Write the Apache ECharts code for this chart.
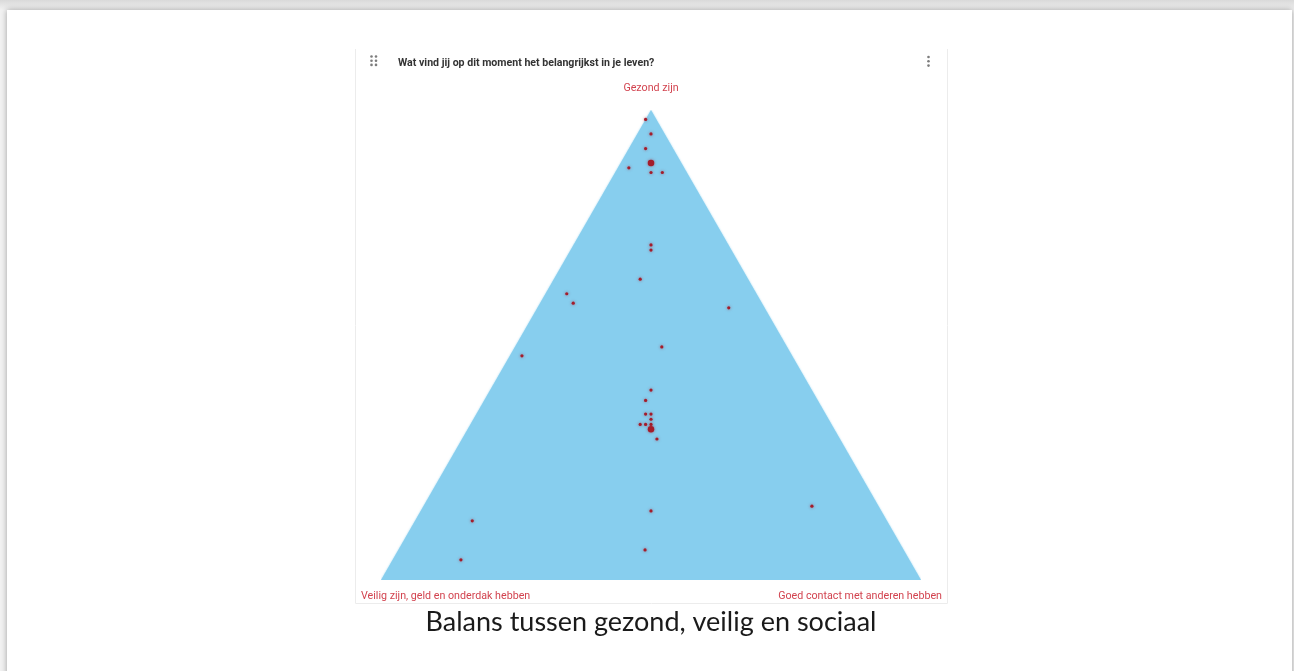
<!DOCTYPE html>
<html>
<head>
<meta charset="utf-8">
<script src="https://cdn.jsdelivr.net/npm/echarts@6/dist/echarts.min.js"></script>
<style>
  html, body { margin: 0; padding: 0; width: 1294px; height: 671px; overflow: hidden; background: #ffffff; }
  #frame { position: absolute; left: 0; top: 0; width: 1294px; height: 671px;
           background: linear-gradient(#d9d9d9, #f2f2f2 10px, #f2f2f2); }
  #page { position: absolute; left: 7px; top: 10px; width: 1285px; height: 670px; background: #ffffff;
          box-shadow: 0 0 6px rgba(0,0,0,0.35); }
  #chart { position: absolute; left: 0; top: 0; width: 1294px; height: 671px; }
</style>
</head>
<body>
<div id="frame"></div>
<div id="page"></div>
<div id="chart"></div>
<script>
// Corner labels (ternary axes)
const cornerLabels = ["Gezond zijn", "Veilig zijn, geld en onderdak hebben", "Goed contact met anderen hebben"];
const chartTitle = "Wat vind jij op dit moment het belangrijkst in je leven?";
const caption = "Balans tussen gezond, veilig en sociaal";

// Triangle outline in plot units (x: 0..100 across base, y: 0..100 height)
const triangle = [[0, 0], [50, 100], [100, 0]];

// Individual answers: [x, y] position inside the triangle
const answers = [
  [49.0, 98.0], [50.0, 94.9], [49.0, 91.8], [45.9, 87.7], [50.0, 86.7], [52.1, 86.7],
  [50.0, 71.3], [50.0, 70.2], [48.0, 64.0], [34.4, 60.9], [35.6, 58.9], [64.4, 57.9],
  [52.0, 49.6], [26.1, 47.7], [50.0, 40.4], [49.0, 38.2], [49.0, 35.3], [50.0, 35.3],
  [50.0, 34.2], [48.0, 33.1], [49.0, 33.1], [50.0, 33.1], [51.1, 30.0],
  [16.9, 12.6], [79.8, 15.7], [50.0, 14.7], [48.9, 6.4], [14.8, 4.3]
];
// Positions where several answers coincide (larger dots)
const clusters = [[50.0, 88.7], [50.0, 32.1]];

const chart = echarts.init(document.getElementById('chart'), null, { renderer: 'canvas' });
const red = '#d2434f';
const dot = '#a31d2b';

function dotsIcon(x0, y0, cols, rows, dx, dy) {
  const out = [];
  for (let c = 0; c < cols; c++) for (let r = 0; r < rows; r++) {
    out.push({ type: 'circle', shape: { cx: x0 + c * dx, cy: y0 + r * dy, r: 1.3 },
               style: { fill: '#7c7c7c' }, silent: true });
  }
  return out;
}

chart.setOption({
  animation: false,
  backgroundColor: 'transparent',
  grid: { left: 381, top: 110, width: 540, height: 470 },
  xAxis: { type: 'value', min: 0, max: 100, show: false },
  yAxis: { type: 'value', min: 0, max: 100, show: false },
  graphic: [
    { type: 'rect', shape: { x: 355.5, y: 47.5, width: 592, height: 556 },
      style: { fill: 'none', stroke: '#ececec', lineWidth: 1 }, z: -10, silent: true },
    { type: 'rect', shape: { x: 355, y: 44, width: 593, height: 5 },
      style: { fill: '#ffffff' }, z: -9, silent: true },
    ...dotsIcon(371.5, 56.5, 2, 3, 4.5, 4.2),
    ...dotsIcon(928.5, 57, 1, 3, 0, 4.3),
    { type: 'text', x: 398, y: 57.5,
      style: { text: chartTitle, font: 'bold 10.6px Roboto', fill: '#333333' } },
    { type: 'text', x: 651, y: 83,
      style: { text: cornerLabels[0], font: '10.7px Roboto', fill: red, align: 'center' } },
    { type: 'text', x: 361, y: 590.5,
      style: { text: cornerLabels[1], font: '10.7px Roboto', fill: red } },
    { type: 'text', x: 942, y: 590.5,
      style: { text: cornerLabels[2], font: '10.7px Roboto', fill: red, align: 'right' } },
    { type: 'text', x: 651, y: 609,
      style: { text: caption, font: '27px Lato', fill: '#1a1a1a', align: 'center' } }
  ],
  series: [
    {
      type: 'line', data: triangle, symbol: 'none', silent: true,
      lineStyle: { width: 0 },
      areaStyle: { color: '#87ceee', opacity: 1, shadowBlur: 2, shadowColor: 'rgba(135,206,238,0.8)' },
      z: 1
    },
    {
      type: 'scatter', data: answers, symbol: 'circle', symbolSize: 3.2,
      itemStyle: { color: dot, opacity: 1, shadowBlur: 3, shadowColor: 'rgba(163,29,43,0.6)' },
      z: 3
    },
    {
      type: 'scatter', data: clusters, symbol: 'circle', symbolSize: 6.5,
      itemStyle: { color: dot, opacity: 1, shadowBlur: 3, shadowColor: 'rgba(163,29,43,0.6)' },
      z: 4
    }
  ]
});
</script>
</body>
</html>
